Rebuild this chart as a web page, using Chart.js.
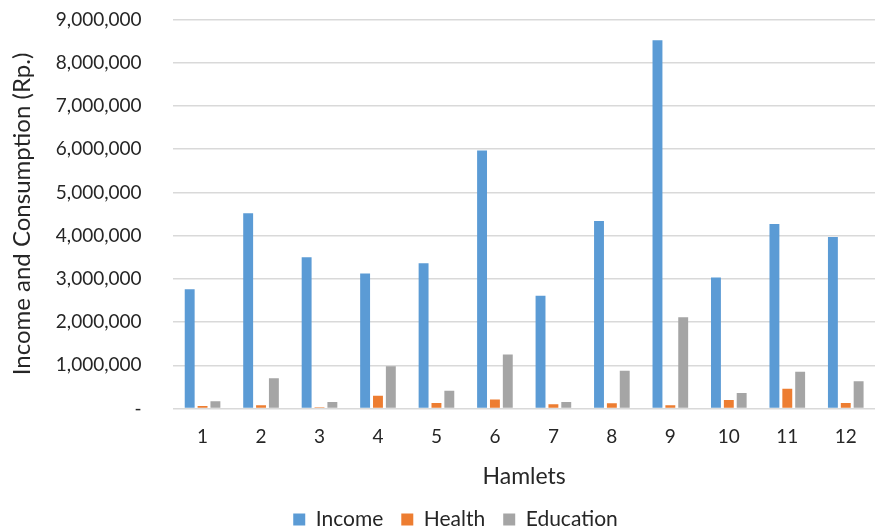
<!DOCTYPE html>
<html>
<head>
<meta charset="utf-8">
<script src="https://cdn.jsdelivr.net/npm/chart.js@4.4.1/dist/chart.umd.min.js"></script>
<style>
  html, body { margin: 0; padding: 0; background: #ffffff; }
  #wrap { width: 875px; height: 531px; position: relative; }
</style>
</head>
<body>
<div id="wrap"><canvas id="c" width="875" height="531"></canvas></div>
<script>
const categories = ['1','2','3','4','5','6','7','8','9','10','11','12'];
const income    = [2760000, 4520000, 3500000, 3125000, 3360000, 5970000, 2610000, 4340000, 8520000, 3030000, 4270000, 3970000];
const health    = [63000, 80000, 30000, 295000, 130000, 210000, 100000, 125000, 80000, 200000, 457000, 130000];
const education = [170000, 700000, 155000, 980000, 410000, 1250000, 150000, 875000, 2110000, 360000, 850000, 635000];
const yTicks = [0, 1000000, 2000000, 3000000, 4000000, 5000000, 6000000, 7000000, 8000000, 9000000];

const FONT = 'Lato, Calibri, Carlito, sans-serif';
const txt = '#262626';

const shiftLegend = {
  id: 'shiftLegend',
  afterLayout(chart) {
    const lg = chart.legend;
    if (lg) { lg.left += 14; lg.right += 14; lg.top -= 2; lg.bottom -= 2; }
  }
};

new Chart(document.getElementById('c'), {
  type: 'bar',
  data: {
    labels: categories,
    datasets: [
      { label: 'Income', data: income, backgroundColor: '#5B9BD5' },
      { label: 'Health', data: health, backgroundColor: '#ED7D31' },
      { label: 'Education', data: education, backgroundColor: '#A5A5A5' }
    ]
  },
  plugins: [shiftLegend],
  options: {
    responsive: false,
    animation: false,
    devicePixelRatio: 1,
    layout: { padding: { top: 0, right: 0, left: 8, bottom: -11 } },
    datasets: { bar: { categoryPercentage: 0.66, barPercentage: 0.77 } },
    plugins: {
      legend: {
        position: 'bottom',
        labels: {
          font: { family: FONT, size: 21 },
          color: txt,
          boxWidth: 12, boxHeight: 12,
          padding: 18
        }
      },
      tooltip: { enabled: false }
    },
    scales: {
      x: {
        grid: { display: false, drawTicks: false },
        border: { display: false },
        ticks: { font: { family: FONT, size: 19 }, color: txt, padding: 17 },
        title: { display: true, text: 'Hamlets', font: { family: FONT, size: 23 }, color: txt, padding: { top: -3, bottom: 3 } }
      },
      y: {
        min: 0, max: 9000000,
        afterBuildTicks: (axis) => { axis.ticks = yTicks.map(v => ({ value: v })); },
        grid: { color: '#d9d9d9', lineWidth: 1.5, drawTicks: false },
        border: { display: false },
        ticks: {
          font: { family: FONT, size: 19 }, color: txt, padding: 8,
          callback: (v) => (v === 0 ? '-' : v.toLocaleString('en-US')) + '\u2003\u2002'
        },
        title: { display: true, text: 'Income and Consumption (Rp.)', font: { family: FONT, size: 24 }, color: txt, padding: { top: 0, bottom: 11 } }
      }
    }
  }
});
</script>
</body>
</html>
